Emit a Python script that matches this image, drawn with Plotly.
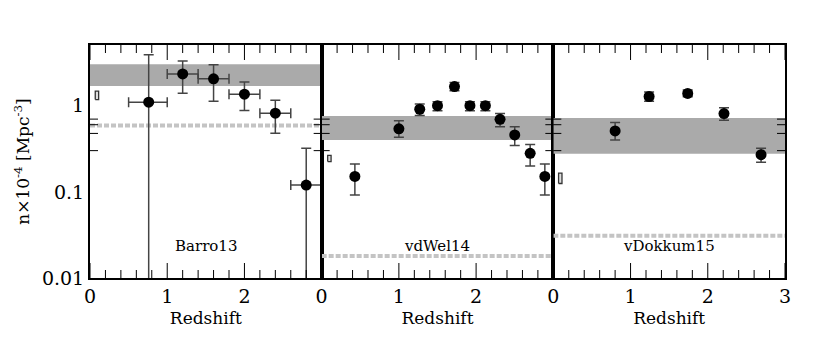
import math
import plotly.graph_objects as go
from plotly.subplots import make_subplots

# ---------------- data ----------------
panel_names = ["Barro13", "vdWel14", "vDokkum15"]

b13_z = [0.76, 1.2, 1.6, 2.0, 2.4, 2.8]
b13_n = [1.1, 2.34, 2.05, 1.36, 0.82, 0.12]
b13_n_hi = [3.9, 3.3, 3.0, 1.88, 1.16, 0.32]
b13_n_lo = [0.002, 1.4, 1.13, 0.88, 0.48, 0.002]
b13_z_lo = [0.5, 1.0, 1.4, 1.8, 2.2, 2.6]
b13_z_hi = [1.0, 1.4, 1.8, 2.2, 2.6, 3.1]

w14_z = [0.43, 1.0, 1.27, 1.5, 1.72, 1.92, 2.12, 2.31, 2.5, 2.7, 2.89]
w14_n = [0.151, 0.54, 0.91, 1.0, 1.67, 1.0, 1.0, 0.695, 0.458, 0.28, 0.151]
w14_n_hi = [0.21, 0.67, 1.05, 1.11, 1.86, 1.11, 1.11, 0.81, 0.57, 0.354, 0.21]
w14_n_lo = [0.092, 0.43, 0.77, 0.875, 1.49, 0.875, 0.875, 0.57, 0.345, 0.20, 0.092]

d15_z = [0.80, 1.24, 1.74, 2.21, 2.69]
d15_n = [0.51, 1.28, 1.39, 0.81, 0.27]
d15_n_hi = [0.64, 1.44, 1.52, 0.95, 0.32]
d15_n_lo = [0.40, 1.13, 1.27, 0.68, 0.22]

band_lo = [1.70, 0.40, 0.277]
band_hi = [3.04, 0.76, 0.72]

hatch_level = [0.59, 0.018, 0.031]

box_z = [0.09, 0.10, 0.09]
box_lo = [1.18, 0.225, 0.125]
box_hi = [1.48, 0.265, 0.165]

z_range = [0, 3]
x_major = [0, 1, 2, 3]
x_labels_inner = [0, 1, 2]
x_minor = [0.2, 0.4, 0.6, 0.8, 1.2, 1.4, 1.6, 1.8, 2.2, 2.4, 2.6, 2.8]
y_major = [0.01, 0.1, 1]
y_major_text = ["0.01", "0.1", "1"]
y_minor = [0.02, 0.03, 0.04, 0.05, 0.06, 0.07, 0.08, 0.09,
           0.2, 0.3, 0.4, 0.5, 0.6, 0.7, 0.8, 0.9,
           2, 3, 4, 5]

# ---------------- figure ----------------
FONT = "DejaVu Serif"
MAJ, MIN = 15, 8
fig = make_subplots(rows=1, cols=3, shared_yaxes=True, horizontal_spacing=0)

err_col = "#444444"
for i in range(3):
    col = i + 1
    fig.add_trace(go.Scatter(
        x=[z_range[0], z_range[1], z_range[1], z_range[0], z_range[0]],
        y=[band_lo[i], band_lo[i], band_hi[i], band_hi[i], band_lo[i]],
        fill="toself", fillcolor="#aaaaaa", line=dict(width=0),
        mode="lines", hoverinfo="skip", showlegend=False), row=1, col=col)
    fig.add_trace(go.Scatter(
        x=z_range, y=[hatch_level[i], hatch_level[i]],
        mode="lines", line=dict(color="#c4c4c4", width=4, dash="5px,2px"),
        hoverinfo="skip", showlegend=False), row=1, col=col)
    bw = 0.022
    fig.add_trace(go.Scatter(
        x=[box_z[i] - bw, box_z[i] + bw, box_z[i] + bw, box_z[i] - bw, box_z[i] - bw],
        y=[box_lo[i], box_lo[i], box_hi[i], box_hi[i], box_lo[i]],
        fill="toself", fillcolor="#dddddd", line=dict(width=1.3, color="#333333"),
        mode="lines", hoverinfo="skip", showlegend=False), row=1, col=col)

fig.add_trace(go.Scatter(
    x=b13_z, y=b13_n, mode="markers",
    marker=dict(color="black", size=11),
    error_y=dict(type="data", symmetric=False,
                 array=[h - n for h, n in zip(b13_n_hi, b13_n)],
                 arrayminus=[n - l for n, l in zip(b13_n, b13_n_lo)],
                 color=err_col, thickness=1.5, width=5),
    error_x=dict(type="data", symmetric=False,
                 array=[h - z for h, z in zip(b13_z_hi, b13_z)],
                 arrayminus=[z - l for z, l in zip(b13_z, b13_z_lo)],
                 color=err_col, thickness=1.5, width=5),
    showlegend=False), row=1, col=1)

for col, zz, nn, hi, lo in [(2, w14_z, w14_n, w14_n_hi, w14_n_lo),
                             (3, d15_z, d15_n, d15_n_hi, d15_n_lo)]:
    fig.add_trace(go.Scatter(
        x=zz, y=nn, mode="markers",
        marker=dict(color="black", size=11),
        error_y=dict(type="data", symmetric=False,
                     array=[h - n for h, n in zip(hi, nn)],
                     arrayminus=[n - l for n, l in zip(nn, lo)],
                     color=err_col, thickness=1.5, width=5),
        showlegend=False), row=1, col=col)

for i, name in enumerate(panel_names):
    sfx = "" if i == 0 else str(i + 1)
    fig.add_annotation(x=1.5, y=-1.63, text=name, showarrow=False,
                       xref="x" + sfx, yref="y" + sfx,
                       font=dict(family=FONT, size=15, color="black"))

# tick marks (inward, on all four sides of each panel)
tick_line = dict(color="black", width=1)
for i in range(3):
    sfx = "" if i == 0 else str(i + 1)
    for z, ln in [(v, MAJ) for v in x_major] + [(v, MIN) for v in x_minor]:
        for anchor, sign in [(0, 1), (1, -1)]:
            fig.add_shape(type="line", xref="x" + sfx, yref="y" + sfx + " domain",
                          ysizemode="pixel", yanchor=anchor,
                          x0=z, x1=z, y0=0, y1=sign * ln, line=tick_line)
    for v, ln in [(v, MAJ) for v in y_major] + [(v, MIN) for v in y_minor]:
        lv = math.log10(v)
        for anchor, sign in [(0, 1), (1, -1)]:
            fig.add_shape(type="line", xref="x" + sfx + " domain", yref="y" + sfx,
                          xsizemode="pixel", xanchor=anchor,
                          x0=0, x1=sign * ln, y0=lv, y1=lv, line=tick_line)

for i in range(3):
    fig.update_xaxes(
        range=z_range, tickmode="array",
        tickvals=x_major if i == 2 else x_labels_inner,
        ticks="", showline=True, linecolor="black", linewidth=2, mirror=True,
        showgrid=False, zeroline=False,
        title=dict(text="Redshift", font=dict(family=FONT, size=17, color="black"), standoff=6),
        tickfont=dict(family=FONT, size=19, color="black"),
        row=1, col=i + 1)
    fig.update_yaxes(
        type="log", range=[-2, 0.705],
        tickmode="array", tickvals=y_major, ticktext=y_major_text,
        ticks="", showline=True, linecolor="black", linewidth=2, mirror=True,
        showgrid=False, zeroline=False,
        tickfont=dict(family=FONT, size=19, color="black"),
        row=1, col=i + 1)

fig.update_yaxes(title=dict(text="n×10<sup>-4</sup> [Mpc<sup>-3</sup>]",
                            font=dict(family=FONT, size=17, color="black"), standoff=8),
                 row=1, col=1)

fig.update_layout(
    width=830, height=364,
    margin=dict(l=82, r=53, t=37, b=94),
    plot_bgcolor="white", paper_bgcolor="white",
)

fig.write_html("out.html")
